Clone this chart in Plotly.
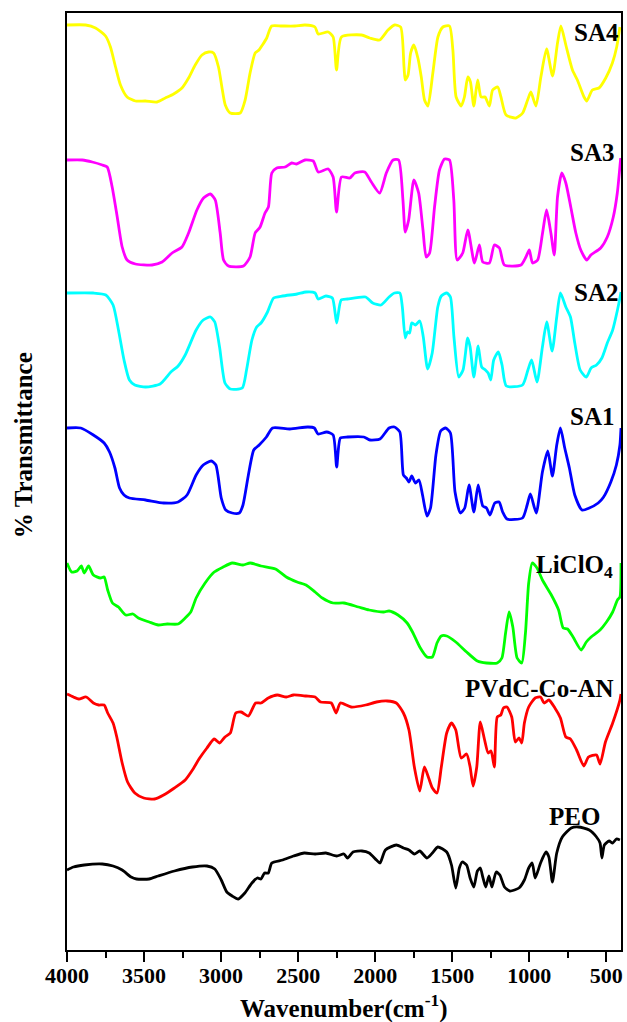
import plotly.graph_objects as go

# ---- data: wavenumber (cm-1) and offset transmittance (a.u.) ----
sa4_wn = [4000, 3879, 3815, 3750, 3718, 3685, 3653, 3610, 3556, 3491, 3416, 3362, 3308, 3254, 3211, 3168, 3124, 3081, 3049, 3017, 2995, 2973, 2941, 2876, 2844, 2812, 2779, 2754, 2732, 2704, 2672, 2607, 2521, 2456, 2391, 2370, 2305, 2273, 2251, 2219, 2089, 2035, 1971, 1917, 1874, 1835, 1813, 1805, 1787, 1770, 1749, 1723, 1701, 1680, 1658, 1626, 1593, 1561, 1518, 1496, 1475, 1442, 1421, 1399, 1382, 1360, 1335, 1313, 1287, 1259, 1238, 1205, 1184, 1151, 1087, 1043, 1011, 990, 957, 925, 888, 849, 817, 795, 763, 720, 688, 645, 627, 591, 548, 504, 461, 433, 412]
sa4_t = [925, 925, 922, 914, 903, 883, 865, 853, 849, 849, 848, 852, 856, 862, 872, 885, 895, 898, 897, 883, 863, 845, 837, 837, 850, 877, 897, 900, 905, 912, 924, 924, 924, 925, 923, 916, 918, 913, 880, 913, 915, 912, 910, 920, 925, 923, 883, 870, 875, 897, 905, 892, 873, 850, 844, 877, 913, 923, 924, 900, 853, 844, 853, 873, 868, 844, 870, 853, 853, 844, 860, 863, 853, 835, 832, 837, 850, 858, 844, 873, 901, 874, 907, 924, 905, 880, 870, 853, 849, 860, 862, 872, 887, 903, 923]

sa3_wn = [4000, 3901, 3836, 3771, 3739, 3707, 3674, 3642, 3610, 3556, 3448, 3383, 3318, 3254, 3211, 3157, 3114, 3070, 3038, 3006, 2984, 2952, 2855, 2812, 2779, 2747, 2715, 2693, 2671, 2639, 2585, 2542, 2510, 2456, 2402, 2370, 2305, 2273, 2251, 2219, 2165, 2132, 2068, 2025, 1971, 1928, 1884, 1848, 1820, 1805, 1783, 1749, 1718, 1690, 1669, 1647, 1615, 1583, 1550, 1518, 1490, 1468, 1432, 1399, 1356, 1324, 1302, 1259, 1227, 1194, 1162, 1054, 1022, 1000, 979, 946, 914, 888, 860, 838, 817, 789, 763, 731, 698, 666, 627, 601, 537, 494, 455, 429, 407]
sa3_t = [790, 790, 788, 785, 783, 763, 733, 703, 690, 686, 685, 688, 697, 703, 717, 740, 752, 756, 750, 717, 690, 684, 684, 693, 717, 723, 737, 743, 777, 782, 783, 787, 786, 790, 789, 778, 781, 773, 738, 773, 772, 777, 778, 768, 757, 777, 790, 790, 750, 718, 730, 770, 757, 720, 693, 697, 743, 780, 791, 790, 750, 690, 697, 720, 687, 705, 688, 687, 705, 702, 685, 685, 693, 700, 687, 690, 717, 740, 717, 695, 753, 777, 767, 743, 717, 700, 690, 695, 702, 713, 733, 757, 792]

sa2_wn = [4000, 3829, 3748, 3701, 3666, 3630, 3595, 3560, 3490, 3396, 3326, 3279, 3233, 3162, 3116, 3069, 3041, 3010, 2975, 2940, 2863, 2835, 2800, 2769, 2741, 2699, 2659, 2601, 2507, 2449, 2390, 2371, 2320, 2278, 2250, 2221, 2179, 2062, 2016, 1962, 1910, 1875, 1840, 1824, 1805, 1791, 1777, 1763, 1739, 1711, 1688, 1660, 1630, 1594, 1571, 1536, 1512, 1489, 1458, 1430, 1400, 1384, 1360, 1332, 1309, 1285, 1267, 1250, 1231, 1201, 1177, 1149, 1044, 1009, 985, 950, 915, 887, 852, 822, 798, 763, 733, 705, 670, 630, 599, 564, 529, 494, 459, 428, 412, 405]
sa2_t = [657, 657, 655, 645, 620, 590, 570, 565, 563, 566, 578, 584, 595, 620, 630, 633, 628, 603, 567, 561, 562, 580, 610, 623, 627, 638, 652, 654, 656, 658, 657, 651, 654, 652, 627, 650, 651, 653, 647, 645, 653, 657, 657, 643, 612, 618, 617, 627, 625, 629, 613, 581, 597, 643, 654, 657, 653, 613, 573, 580, 612, 603, 573, 604, 583, 580, 577, 570, 590, 598, 585, 564, 565, 580, 590, 568, 603, 628, 599, 633, 657, 643, 633, 607, 580, 573, 582, 585, 592, 607, 620, 640, 652, 658]

sa1_wn = [4000, 3911, 3829, 3759, 3724, 3689, 3659, 3630, 3595, 3490, 3373, 3279, 3221, 3162, 3116, 3064, 3034, 2999, 2970, 2928, 2882, 2858, 2823, 2788, 2753, 2706, 2666, 2554, 2437, 2395, 2371, 2315, 2273, 2250, 2226, 2179, 2074, 2034, 1969, 1910, 1875, 1840, 1817, 1798, 1781, 1763, 1739, 1716, 1693, 1664, 1641, 1606, 1575, 1543, 1512, 1482, 1447, 1419, 1391, 1360, 1332, 1302, 1278, 1255, 1224, 1196, 1173, 1145, 1044, 1014, 993, 955, 915, 880, 850, 822, 798, 770, 740, 705, 658, 611, 553, 518, 471, 435, 412, 405]
sa1_t = [522, 522, 515, 507, 498, 482, 462, 455, 452, 450, 447, 448, 455, 475, 485, 489, 485, 452, 440, 437, 437, 445, 475, 500, 505, 513, 522, 521, 523, 522, 516, 518, 515, 483, 512, 513, 513, 510, 511, 522, 523, 518, 475, 472, 468, 474, 467, 470, 455, 434, 442, 495, 519, 522, 517, 458, 437, 442, 465, 438, 465, 444, 442, 435, 447, 448, 438, 431, 432, 445, 456, 437, 478, 499, 474, 505, 522, 502, 482, 455, 440, 442, 447, 453, 468, 485, 505, 522]

liclo4_wn = [4000, 3970, 3935, 3907, 3888, 3860, 3829, 3783, 3759, 3736, 3705, 3666, 3619, 3572, 3537, 3467, 3408, 3350, 3279, 3233, 3197, 3162, 3104, 3045, 2987, 2928, 2858, 2811, 2741, 2647, 2577, 2507, 2449, 2390, 2343, 2273, 2203, 2109, 2039, 1945, 1910, 1852, 1793, 1758, 1711, 1664, 1629, 1599, 1571, 1536, 1477, 1407, 1337, 1278, 1208, 1178, 1154, 1131, 1107, 1079, 1049, 1025, 1004, 981, 950, 915, 857, 810, 780, 752, 716, 663, 630, 599, 541, 499, 459, 428, 412, 405]
liclo4_t = [387, 378, 379, 384, 377, 384, 375, 372, 373, 360, 347, 343, 335, 336, 332, 328, 325, 326, 326, 332, 338, 352, 367, 378, 383, 387, 385, 387, 384, 381, 373, 368, 365, 358, 352, 347, 347, 343, 340, 338, 339, 335, 327, 318, 303, 293, 293, 307, 314, 314, 308, 298, 289, 287, 287, 292, 317, 338, 323, 292, 287, 317, 367, 387, 382, 370, 355, 340, 322, 321, 313, 300, 308, 313, 320, 328, 338, 350, 353, 387]

pvdc_wn = [4000, 3958, 3923, 3876, 3829, 3794, 3759, 3736, 3701, 3677, 3642, 3607, 3560, 3502, 3432, 3373, 3303, 3233, 3186, 3139, 3092, 3045, 3010, 2975, 2940, 2905, 2870, 2823, 2776, 2741, 2694, 2636, 2577, 2530, 2449, 2390, 2355, 2285, 2254, 2226, 2156, 2062, 1992, 1922, 1863, 1817, 1781, 1746, 1711, 1681, 1653, 1629, 1599, 1571, 1536, 1505, 1477, 1442, 1407, 1384, 1365, 1341, 1318, 1290, 1267, 1248, 1227, 1208, 1185, 1168, 1145, 1114, 1091, 1067, 1049, 1032, 1004, 962, 927, 904, 873, 834, 798, 763, 733, 693, 646, 616, 564, 541, 506, 459, 412, 405]
pvdc_t = [256, 253, 251, 253, 247, 245, 245, 237, 227, 213, 187, 168, 157, 152, 151, 155, 162, 170, 180, 192, 202, 211, 207, 213, 217, 237, 238, 234, 247, 247, 252, 255, 253, 255, 254, 253, 248, 247, 237, 247, 243, 245, 248, 249, 247, 237, 220, 183, 159, 183, 172, 162, 157, 183, 217, 227, 220, 192, 196, 183, 164, 183, 228, 210, 197, 199, 183, 233, 235, 242, 243, 233, 208, 212, 207, 227, 243, 252, 253, 247, 250, 242, 232, 213, 211, 200, 184, 193, 195, 186, 208, 227, 250, 256]

peo_wn = [4000, 3958, 3888, 3771, 3701, 3642, 3584, 3549, 3467, 3408, 3303, 3186, 3092, 3041, 2999, 2963, 2928, 2889, 2846, 2800, 2765, 2741, 2718, 2694, 2671, 2601, 2530, 2460, 2390, 2320, 2250, 2203, 2179, 2144, 2086, 2039, 1992, 1969, 1934, 1863, 1817, 1781, 1746, 1711, 1664, 1629, 1594, 1536, 1505, 1477, 1454, 1435, 1407, 1384, 1360, 1337, 1318, 1302, 1283, 1262, 1243, 1215, 1191, 1161, 1126, 1067, 1032, 1004, 981, 962, 927, 892, 873, 850, 822, 786, 728, 681, 611, 564, 541, 529, 513, 482, 459, 435, 412]
peo_t = [80, 83, 85, 86, 84, 80, 73, 71, 71, 74, 79, 83, 84, 81, 70, 58, 54, 51, 57, 67, 72, 71, 77, 77, 87, 90, 94, 97, 96, 97, 94, 96, 92, 98, 99, 97, 90, 87, 100, 105, 102, 100, 96, 99, 92, 97, 103, 98, 85, 62, 82, 88, 85, 72, 63, 79, 82, 73, 63, 74, 63, 78, 75, 63, 59, 62, 70, 82, 87, 72, 87, 98, 93, 68, 97, 113, 122, 123, 120, 113, 107, 92, 105, 109, 107, 111, 110]

series_names = ["SA4", "SA3", "SA2", "SA1", "LiClO<sub>4</sub>", "PVdC-Co-AN", "PEO"]
series_colors = ["#FFFF00", "#FF00FF", "#00FFFF", "#0000FF", "#00FF00", "#FF0000", "#000000"]
series_wn = [sa4_wn, sa3_wn, sa2_wn, sa1_wn, liclo4_wn, pvdc_wn, peo_wn]
series_t = [sa4_t, sa3_t, sa2_t, sa1_t, liclo4_t, pvdc_t, peo_t]

x_tick_vals = [4000, 3500, 3000, 2500, 2000, 1500, 1000, 500]

# label anchor positions (paper coords)
label_pos = [(1.0, 0.979), (0.991, 0.8506), (0.998, 0.7017), (0.991, 0.5694),
             (0.989, 0.4093), (0.991, 0.279), (0.965, 0.1425)]

FONT = "Liberation Serif"

fig = go.Figure()
for name, col, wn, t in zip(series_names, series_colors, series_wn, series_t):
    fig.add_trace(go.Scatter(x=wn, y=t, mode="lines", name=name,
                             line=dict(color=col, width=2.8, shape="spline", smoothing=0.6),
                             showlegend=False, hoverinfo="skip"))

for name, (lx, ly) in zip(series_names, label_pos):
    fig.add_annotation(x=lx, y=ly, xref="paper", yref="paper", text="<b>%s</b>" % name,
                       showarrow=False, xanchor="right", yanchor="middle",
                       font=dict(family=FONT, size=25, color="black"))

fig.add_annotation(x=0.5, y=-0.0605, xref="paper", yref="paper",
                   text="<b>Wavenumber(cm<sup>-1</sup>)</b>", showarrow=False,
                   xanchor="center", yanchor="middle",
                   font=dict(family=FONT, size=25, color="black"))
fig.add_annotation(x=-0.0773, y=0.539, xref="paper", yref="paper",
                   text="<b>% Transmittance</b>", showarrow=False, textangle=-90,
                   xanchor="center", yanchor="middle",
                   font=dict(family=FONT, size=25, color="black"))

fig.update_layout(
    width=627, height=1022,
    margin=dict(l=67, r=4, t=13, b=72),
    paper_bgcolor="white", plot_bgcolor="white",
    xaxis=dict(range=[4000, 405], tickvals=x_tick_vals, ticks="outside", ticklen=10,
               tickwidth=2, tickcolor="black", showline=True, linewidth=2, linecolor="black",
               mirror=True, showgrid=False, zeroline=False, ticklabelstandoff=-5,
               tickfont=dict(family=FONT, size=22, color="black", weight="bold"),
               minor=dict(ticks="outside", ticklen=6, tickwidth=2, tickcolor="black", dtick=250, showgrid=False)),
    yaxis=dict(range=[0, 937], showline=True, linewidth=2, linecolor="black", mirror=True,
               showticklabels=False, ticks="", showgrid=False, zeroline=False),
)

fig.write_html("out.html")
